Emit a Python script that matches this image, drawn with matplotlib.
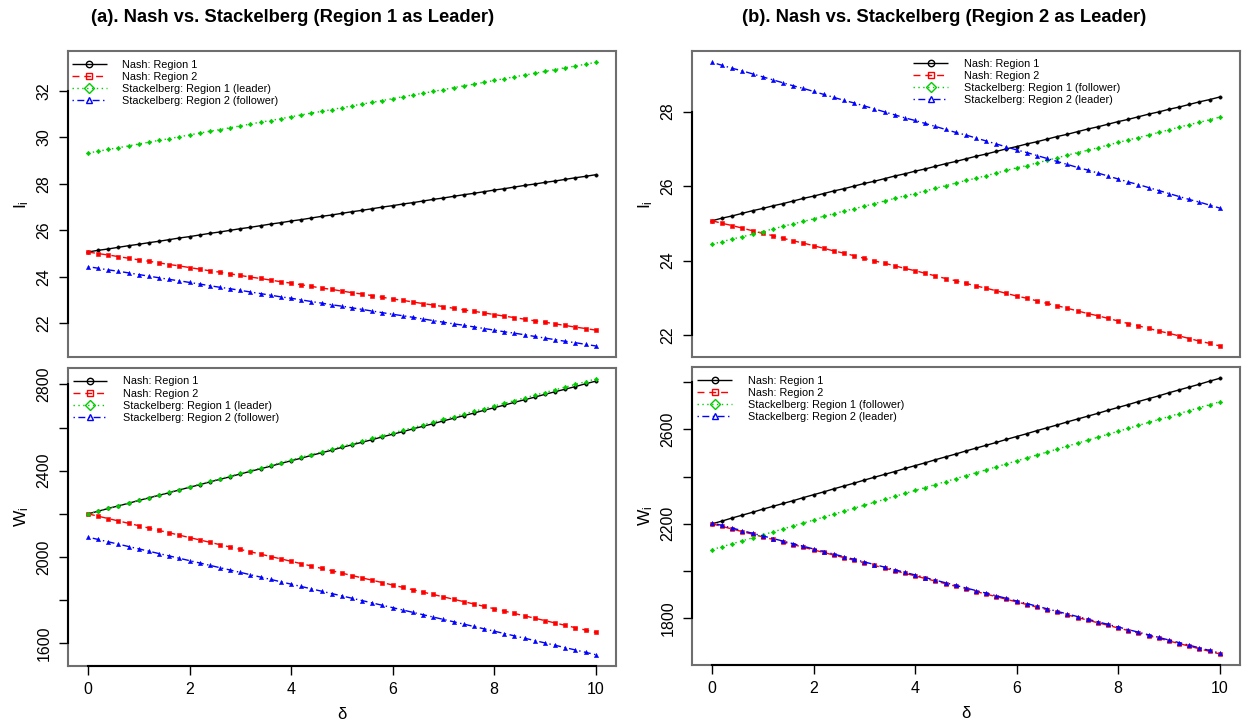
import matplotlib
matplotlib.use('Agg')
import matplotlib.pyplot as plt
from matplotlib.lines import Line2D

plt.rcParams['font.family'] = ['Liberation Sans', 'DejaVu Sans']
plt.rcParams['mathtext.default'] = 'regular'
plt.rcParams['lines.scale_dashes'] = False

# delta grid
delta = [0.0, 0.2, 0.4, 0.6, 0.8, 1.0, 1.2, 1.4, 1.6, 1.8,
         2.0, 2.2, 2.4, 2.6, 2.8, 3.0, 3.2, 3.4, 3.6, 3.8,
         4.0, 4.2, 4.4, 4.6, 4.8, 5.0, 5.2, 5.4, 5.6, 5.8,
         6.0, 6.2, 6.4, 6.6, 6.8, 7.0, 7.2, 7.4, 7.6, 7.8,
         8.0, 8.2, 8.4, 8.6, 8.8, 9.0, 9.2, 9.4, 9.6, 9.8, 10.0]

# I_i : Nash (same in both panels)
nash_I1 = [25.07, 25.14, 25.20, 25.27, 25.34, 25.40, 25.47, 25.53, 25.60, 25.67,
           25.73, 25.80, 25.87, 25.93, 26.00, 26.07, 26.13, 26.20, 26.27, 26.33,
           26.40, 26.46, 26.53, 26.60, 26.66, 26.73, 26.80, 26.86, 26.93, 27.00,
           27.06, 27.13, 27.19, 27.26, 27.33, 27.39, 27.46, 27.53, 27.59, 27.66,
           27.73, 27.79, 27.86, 27.93, 27.99, 28.06, 28.12, 28.19, 28.26, 28.32, 28.39]
nash_I2 = [25.07, 25.00, 24.94, 24.87, 24.80, 24.73, 24.67, 24.60, 24.53, 24.47,
           24.40, 24.33, 24.26, 24.20, 24.13, 24.06, 23.99, 23.93, 23.86, 23.79,
           23.73, 23.66, 23.59, 23.52, 23.46, 23.39, 23.32, 23.26, 23.19, 23.12,
           23.05, 22.99, 22.92, 22.85, 22.79, 22.72, 22.65, 22.58, 22.52, 22.45,
           22.38, 22.31, 22.25, 22.18, 22.11, 22.05, 21.98, 21.91, 21.84, 21.78, 21.71]

# I_i : Stackelberg, region 1 leader
a_stack_I1 = [29.32, 29.40, 29.48, 29.55, 29.63, 29.71, 29.79, 29.87, 29.94, 30.02,
              30.10, 30.18, 30.26, 30.33, 30.41, 30.49, 30.57, 30.65, 30.72, 30.80,
              30.88, 30.96, 31.04, 31.11, 31.19, 31.27, 31.35, 31.43, 31.50, 31.58,
              31.66, 31.74, 31.82, 31.89, 31.97, 32.05, 32.13, 32.21, 32.28, 32.36,
              32.44, 32.52, 32.60, 32.67, 32.75, 32.83, 32.91, 32.99, 33.06, 33.14, 33.22]
a_stack_I2 = [24.44, 24.37, 24.30, 24.24, 24.17, 24.10, 24.03, 23.96, 23.89, 23.83,
              23.76, 23.69, 23.62, 23.55, 23.49, 23.42, 23.35, 23.28, 23.21, 23.14,
              23.08, 23.01, 22.94, 22.87, 22.80, 22.74, 22.67, 22.60, 22.53, 22.46,
              22.39, 22.33, 22.26, 22.19, 22.12, 22.05, 21.98, 21.92, 21.85, 21.78,
              21.71, 21.64, 21.58, 21.51, 21.44, 21.37, 21.30, 21.23, 21.17, 21.10, 21.03]

# I_i : Stackelberg, region 2 leader
b_stack_I1 = [24.44, 24.51, 24.58, 24.64, 24.71, 24.78, 24.85, 24.92, 24.99, 25.05,
              25.12, 25.19, 25.26, 25.33, 25.39, 25.46, 25.53, 25.60, 25.67, 25.74,
              25.80, 25.87, 25.94, 26.01, 26.08, 26.15, 26.21, 26.28, 26.35, 26.42,
              26.49, 26.55, 26.62, 26.69, 26.76, 26.83, 26.90, 26.96, 27.03, 27.10,
              27.17, 27.24, 27.30, 27.37, 27.44, 27.51, 27.58, 27.65, 27.71, 27.78, 27.85]
b_stack_I2 = [29.32, 29.24, 29.16, 29.09, 29.01, 28.93, 28.85, 28.77, 28.69, 28.62,
              28.54, 28.46, 28.38, 28.30, 28.23, 28.15, 28.07, 27.99, 27.91, 27.83,
              27.76, 27.68, 27.60, 27.52, 27.44, 27.37, 27.29, 27.21, 27.13, 27.05,
              26.97, 26.90, 26.82, 26.74, 26.66, 26.58, 26.50, 26.43, 26.35, 26.27,
              26.19, 26.11, 26.04, 25.96, 25.88, 25.80, 25.72, 25.64, 25.57, 25.49, 25.41]

# W_i : Nash
nash_W1 = [2200, 2212, 2225, 2237, 2249, 2262, 2274, 2286, 2298, 2311,
           2323, 2335, 2348, 2360, 2372, 2385, 2397, 2409, 2421, 2434,
           2446, 2458, 2471, 2483, 2495, 2508, 2520, 2532, 2544, 2557,
           2569, 2581, 2594, 2606, 2618, 2631, 2643, 2655, 2667, 2680,
           2692, 2704, 2717, 2729, 2741, 2754, 2766, 2778, 2790, 2803, 2815]
nash_W2 = [2200, 2189, 2178, 2167, 2156, 2145, 2134, 2123, 2112, 2101,
           2090, 2079, 2068, 2057, 2046, 2035, 2024, 2013, 2002, 1991,
           1980, 1969, 1958, 1947, 1936, 1925, 1914, 1903, 1892, 1881,
           1870, 1859, 1848, 1837, 1826, 1815, 1804, 1793, 1782, 1771,
           1760, 1749, 1738, 1727, 1716, 1705, 1694, 1683, 1672, 1661, 1650]

# W_i : Stackelberg, region 1 leader
a_stack_W1 = [2200, 2212.5, 2225, 2237.5, 2250, 2262.5, 2275, 2287.5, 2300, 2312.5,
              2325, 2337.5, 2350, 2362.5, 2375, 2387.5, 2400, 2412.5, 2425, 2437.5,
              2450, 2462.5, 2475, 2487.5, 2500, 2512.5, 2525, 2537.5, 2550, 2562.5,
              2575, 2587.5, 2600, 2612.5, 2625, 2637.5, 2650, 2662.5, 2675, 2687.5,
              2700, 2712.5, 2725, 2737.5, 2750, 2762.5, 2775, 2787.5, 2800, 2812.5, 2825]
a_stack_W2 = [2092, 2081.1, 2070.2, 2059.3, 2048.4, 2037.5, 2026.6, 2015.7, 2004.8, 1993.9,
              1983, 1972.1, 1961.2, 1950.3, 1939.4, 1928.5, 1917.6, 1906.7, 1895.8, 1884.9,
              1874, 1863.1, 1852.2, 1841.3, 1830.4, 1819.5, 1808.6, 1797.7, 1786.8, 1775.9,
              1765, 1754.1, 1743.2, 1732.3, 1721.4, 1710.5, 1699.6, 1688.7, 1677.8, 1666.9,
              1656, 1645.1, 1634.2, 1623.3, 1612.4, 1601.5, 1590.6, 1579.7, 1568.8, 1557.9, 1547]

# W_i : Stackelberg, region 2 leader
b_stack_W1 = [2091, 2103.5, 2116, 2128.5, 2141, 2153.5, 2166, 2178.5, 2191, 2203.5,
              2216, 2228.5, 2241, 2253.5, 2266, 2278.5, 2291, 2303.5, 2316, 2328.5,
              2341, 2353.5, 2366, 2378.5, 2391, 2403.5, 2416, 2428.5, 2441, 2453.5,
              2466, 2478.5, 2491, 2503.5, 2516, 2528.5, 2541, 2553.5, 2566, 2578.5,
              2591, 2603.5, 2616, 2628.5, 2641, 2653.5, 2666, 2678.5, 2691, 2703.5, 2716]
b_stack_W2 = [2204, 2193, 2182, 2171, 2160, 2149, 2138, 2127, 2116, 2105,
              2094, 2083, 2072, 2061, 2050, 2039, 2028, 2017, 2006, 1995,
              1984, 1973, 1962, 1951, 1940, 1929, 1918, 1907, 1896, 1885,
              1874, 1863, 1852, 1841, 1830, 1819, 1808, 1797, 1786, 1775,
              1764, 1753, 1742, 1731, 1720, 1709, 1698, 1687, 1676, 1665, 1654]

labels_a = ['Nash: Region 1', 'Nash: Region 2',
            'Stackelberg: Region 1 (leader)', 'Stackelberg: Region 2 (follower)']
labels_b = ['Nash: Region 1', 'Nash: Region 2',
            'Stackelberg: Region 1 (follower)', 'Stackelberg: Region 2 (leader)']

x_ticks = [0, 2, 4, 6, 8, 10]

# colour, dash pattern, small marker on the curve, its size
styles = [('black', (0, ()), 'o', 2.4),
          ('red', (0, (5, 3.5)), 's', 2.2),
          ('#00cc00', (0, (1, 2.5)), 'D', 2.3),
          ('blue', (0, (1, 2.5, 5, 2.5)), '^', 3.0)]
legend_marks = ['o', 's', 'D', '^']

W, H = 1248, 723
fig = plt.figure(figsize=(W / 100, H / 100), dpi=100)


def add_panel(left, top, right, bottom):
    return fig.add_axes([left / W, 1 - bottom / H, (right - left) / W, (bottom - top) / H])


def draw(ax, series, labels, yticks, ylabels, ylabel, leg_xy, bottom_row):
    for (col, ls, mk, ms), ys in zip(styles, series):
        ax.plot(delta, ys, color=col, linestyle=ls, lw=1.0, marker=mk, markersize=ms,
                markeredgewidth=0.4)
    ax.set_xlim(-0.4, 10.4)
    lo = min(min(s) for s in series)
    hi = max(max(s) for s in series)
    pad = (hi - lo) * 0.04
    ax.set_ylim(lo - pad, hi + pad)
    for sp in ax.spines.values():
        sp.set_color('#6e6e6e')
        sp.set_linewidth(1.5)
    ax.set_yticks(yticks)
    ax.set_yticklabels(ylabels, rotation=90, va='center', fontsize=11.5)
    ax.tick_params(axis='both', length=9.5 / 1.389, width=1.0, color='black', pad=5)
    # black axis line from first to last tick, as in R
    ax.plot([0, 0], [yticks[0], yticks[-1]], color='black', lw=1.5,
            transform=ax.get_yaxis_transform(), clip_on=False, zorder=5)
    ax.set_ylabel(ylabel, fontsize=12.5, labelpad=4)
    if bottom_row:
        ax.set_xticks(x_ticks)
        ax.set_xticklabels([str(t) for t in x_ticks], fontsize=11.5)
        ax.plot([x_ticks[0], x_ticks[-1]], [0, 0], color='black', lw=1.5,
                transform=ax.get_xaxis_transform(), clip_on=False, zorder=5)
        ax.set_xlabel('δ', fontsize=12, labelpad=7)
    else:
        ax.set_xticks([])
    handles = [Line2D([], [], color=c, linestyle=ls, lw=1.0, marker=m, markersize=4.6,
                      markerfacecolor='none', markeredgewidth=1.0)
               for (c, ls, _, _), m in zip(styles, legend_marks)]
    ax.legend(handles, labels, loc='upper left', bbox_to_anchor=leg_xy, frameon=False,
              fontsize=7.8, handlelength=3.2, handletextpad=1.45, labelspacing=0.2,
              borderpad=0, borderaxespad=0, numpoints=1)


ax1 = add_panel(67.7, 51, 616, 357.3)
draw(ax1, [nash_I1, nash_I2, a_stack_I1, a_stack_I2], labels_a,
     [22, 24, 26, 28, 30, 32], ['22', '24', '26', '28', '30', '32'],
     '$I_i$', (0.008, 0.972), False)

ax2 = add_panel(67.7, 368, 616, 665.7)
draw(ax2, [nash_W1, nash_W2, a_stack_W1, a_stack_W2], labels_a,
     [1600, 1800, 2000, 2200, 2400, 2600, 2800], ['1600', '', '2000', '', '2400', '', '2800'],
     '$W_i$', (0.009, 0.972), True)

ax3 = add_panel(691.7, 51, 1240, 357.3)
draw(ax3, [nash_I1, nash_I2, b_stack_I1, b_stack_I2], labels_b,
     [22, 24, 26, 28], ['22', '24', '26', '28'],
     '$I_i$', (0.404, 0.975), False)

ax4 = add_panel(691.7, 367.3, 1240, 665)
draw(ax4, [nash_W1, nash_W2, b_stack_W1, b_stack_W2], labels_b,
     [1800, 2000, 2200, 2400, 2600, 2800], ['1800', '', '2200', '', '2600', ''],
     '$W_i$', (0.01, 0.972), True)

fig.text(293 / W, 1 - 17 / H, '(a). Nash vs. Stackelberg (Region 1 as Leader)',
         ha='center', va='center', fontsize=13.2, fontweight='bold')
fig.text(944 / W, 1 - 17 / H, '(b). Nash vs. Stackelberg (Region 2 as Leader)',
         ha='center', va='center', fontsize=13.2, fontweight='bold')

fig.savefig('out.png', dpi=100)
